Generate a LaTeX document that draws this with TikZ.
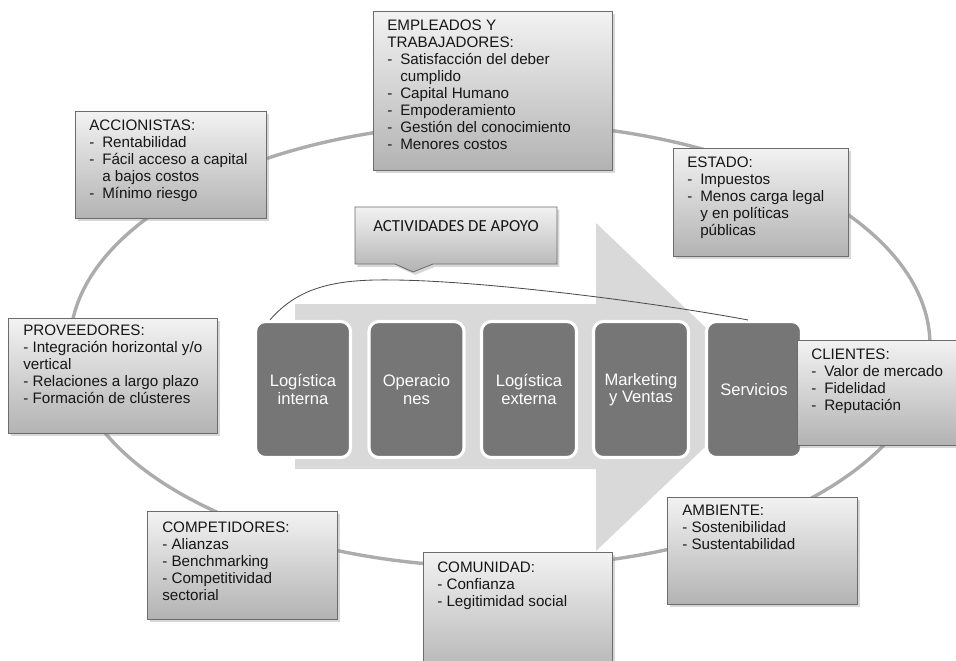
\documentclass[tikz,border=0pt]{standalone}
\usepackage{fontspec}
\setmainfont{Liberation Sans}
\newfontfamily\calib{Carlito}
\usetikzlibrary{shadows}
\definecolor{ring}{RGB}{172,172,172}
\definecolor{flowgray}{RGB}{217,217,217}
\definecolor{stepfill}{RGB}{118,118,118}
\definecolor{edge}{RGB}{108,108,108}
\definecolor{ink}{RGB}{22,22,22}
\newdimen\px \px=0.025cm
\newcommand{\lidash}{\makebox[13\px][l]{-}}
\newcommand{\lipad}{\hspace*{13\px}}
\tikzset{
  panel/.style={draw=edge, line width=0.6pt, top color=black!5, bottom color=black!30,
                drop shadow={shadow xshift=1.6pt, shadow yshift=-2pt, opacity=0.35, fill=black!45}},
  stake/.style={panel, anchor=north west, inner sep=0pt},
  blurb/.style={anchor=north west, inner sep=0pt, align=left, text=ink,
                font=\fontsize{10.8}{12.1}\selectfont},
  actbox/.style={draw=white, line width=2.2pt, fill=stepfill, rounded corners=7pt,
                 minimum width=95\px, minimum height=136\px, text=white, align=center,
                 font=\fontsize{11.8}{12.4}\selectfont},
  linkline/.style={black!70, line width=0.6pt},
}
\begin{document}
\begin{tikzpicture}[x=0.025cm, y=-0.025cm]
  \useasboundingbox (0,0) rectangle (956,660);
  % ring of stakeholders
  \draw[ring, line width=3.4\px] (500,345) ellipse [x radius=430, y radius=222];
  % value chain arrow
  \fill[flowgray] (295,304) -- (596,304) -- (596,223) -- (768,387) -- (596,551) -- (596,469) -- (295,469) -- cycle;
  \node[actbox] (li) at (303,389.5) {Logística\\interna};
  \node[actbox] (op) at (416.5,389.5) {Operacio\\nes};
  \node[actbox] (le) at (529,389.5) {Logística\\externa};
  \node[actbox] (mv) at (641,389.5) {Marketing\\y Ventas};
  \node[actbox] (sv) at (754,389.5) {Servicios};
  \draw[linkline] ([shift={(16,0)}]li.north west) .. controls (300,285) and (340,279) .. (395,280)
        .. controls (480,281) and (640,300) .. ([shift={(-6,0)}]sv.north);
  % support callout
  \path[panel] (355,207) -- (557,207) -- (557,264) -- (433,264) -- (413,272) -- (395,264) -- (355,264) -- cycle;
  \node[text=ink, font=\calib\fontsize{12}{13}\selectfont] (apoyo) at (456,226) {ACTIVIDADES DE APOYO};
  % stakeholder boxes
  \node[stake, minimum width=239\px, minimum height=159\px] (emp) at (373,11) {};
  \node[blurb] (emp-t) at ([shift={(14,9)}]emp.north west) {EMPLEADOS Y\\TRABAJADORES:\\\lidash Satisfacción del deber\\\lipad cumplido\\\lidash Capital Humano\\\lidash Empoderamiento\\\lidash Gestión del conocimiento\\\lidash Menores costos};
  \node[stake, minimum width=191\px, minimum height=107\px] (acc) at (75,111) {};
  \node[blurb] (acc-t) at ([shift={(14,9)}]acc.north west) {ACCIONISTAS:\\\lidash Rentabilidad\\\lidash Fácil acceso a capital\\\lipad a bajos costos\\\lidash Mínimo riesgo};
  \node[stake, minimum width=175\px, minimum height=108\px] (est) at (673,148) {};
  \node[blurb] (est-t) at ([shift={(14,9)}]est.north west) {ESTADO:\\\lidash Impuestos\\\lidash Menos carga legal\\\lipad y en políticas\\\lipad públicas};
  \node[stake, minimum width=209\px, minimum height=115\px] (prov) at (8,318) {};
  \node[blurb] (prov-t) at ([shift={(15,7)}]prov.north west) {PROVEEDORES:\\- Integración horizontal y/o\\vertical\\- Relaciones a largo plazo\\- Formación de clústeres};
  \node[stake, minimum width=172\px, minimum height=105\px] (cli) at (797,340) {};
  \node[blurb] (cli-t) at ([shift={(14,9)}]cli.north west) {CLIENTES:\\\lidash Valor de mercado\\\lidash Fidelidad\\\lidash Reputación};
  \node[stake, minimum width=190\px, minimum height=108\px] (comp) at (147,511) {};
  \node[blurb] (comp-t) at ([shift={(15,11)}]comp.north west) {COMPETIDORES:\\- Alianzas\\- Benchmarking\\- Competitividad\\sectorial};
  \node[stake, minimum width=189\px, minimum height=125\px] (com) at (423,552) {};
  \node[blurb] (com-t) at ([shift={(14,10)}]com.north west) {COMUNIDAD:\\- Confianza\\- Legitimidad social};
  \node[stake, minimum width=190\px, minimum height=107\px] (amb) at (667,497) {};
  \node[blurb] (amb-t) at ([shift={(15,8)}]amb.north west) {AMBIENTE:\\- Sostenibilidad\\- Sustentabilidad};
\end{tikzpicture}
\end{document}
